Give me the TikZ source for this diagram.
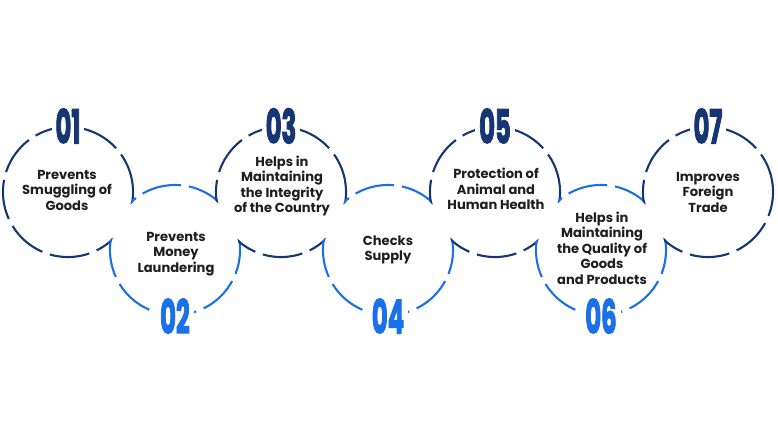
\documentclass[tikz,border=0pt]{standalone}
\usepackage{fontspec}
\setmainfont{Poppins}
\newfontfamily\numfont{Poppins}[BoldFeatures={FakeBold=3}]
\usetikzlibrary{positioning}
\definecolor{navyblue}{RGB}{22,54,115}
\definecolor{brightblue}{RGB}{26,112,232}
\definecolor{textdark}{RGB}{30,30,30}

\begin{document}
\begin{tikzpicture}[x=0.75pt, y=-0.75pt,
    ring/.style={circle, minimum size=97.5pt, inner sep=0pt, line width=1.6pt, dash pattern=on 30pt off 6pt},
    topring/.style={ring, draw=navyblue},
    botring/.style={ring, draw=brightblue},
    numlabel/.style={fill=white, inner xsep=3pt, inner ysep=0pt, font=\numfont\bfseries\fontsize{35}{35}\selectfont},
    ringtext/.style={align=center, text=textdark, font=\bfseries\fontsize{9.8}{11.6}\selectfont}
]
\useasboundingbox (0,0) rectangle (778,437);

\foreach \i/\x/\y/\s in {1/68/192/topring, 2/175/250/botring, 3/281/192/topring, 4/388/250/botring, 5/495/192/topring, 6/601/250/botring, 7/708/192/topring}
  \node[\s] (c\i) at (\x,\y) {};

% hide the parts of each ring that lie inside its neighbours
\foreach \i in {1,...,7}
  \fill[white] (c\i.center) circle (47.6pt);

\node[numlabel, text=navyblue] (n1) at (c1.north) {\scalebox{0.52}[1]{01}};
\node[numlabel, text=brightblue] (n2) at (c2.south) {\scalebox{0.52}[1]{02}};
\node[numlabel, text=navyblue] (n3) at (c3.north) {\scalebox{0.52}[1]{03}};
\node[numlabel, text=brightblue] (n4) at (c4.south) {\scalebox{0.52}[1]{04}};
\node[numlabel, text=navyblue] (n5) at (c5.north) {\scalebox{0.52}[1]{05}};
\node[numlabel, text=brightblue] (n6) at (c6.south) {\scalebox{0.52}[1]{06}};
\node[numlabel, text=navyblue] (n7) at (c7.north) {\scalebox{0.52}[1]{07}};

\node[ringtext] (t1) at (67,190) {Prevents\\Smuggling of\\Goods};
\node[ringtext] (t2) at (176,254) {Prevents\\Money\\Laundering};
\node[ringtext] (t3) at (282,186) {Helps in\\Maintaining\\the Integrity\\of the Country};
\node[ringtext] (t4) at (388,250) {Checks\\Supply};
\node[ringtext] (t5) at (496,189) {Protection of\\Animal and\\Human Health};
\node[ringtext] (t6) at (602,248) {Helps in\\Maintaining\\the Quality of\\Goods\\and Products};
\node[ringtext] (t7) at (708,192) {Improves\\Foreign\\Trade};
\end{tikzpicture}
\end{document}
